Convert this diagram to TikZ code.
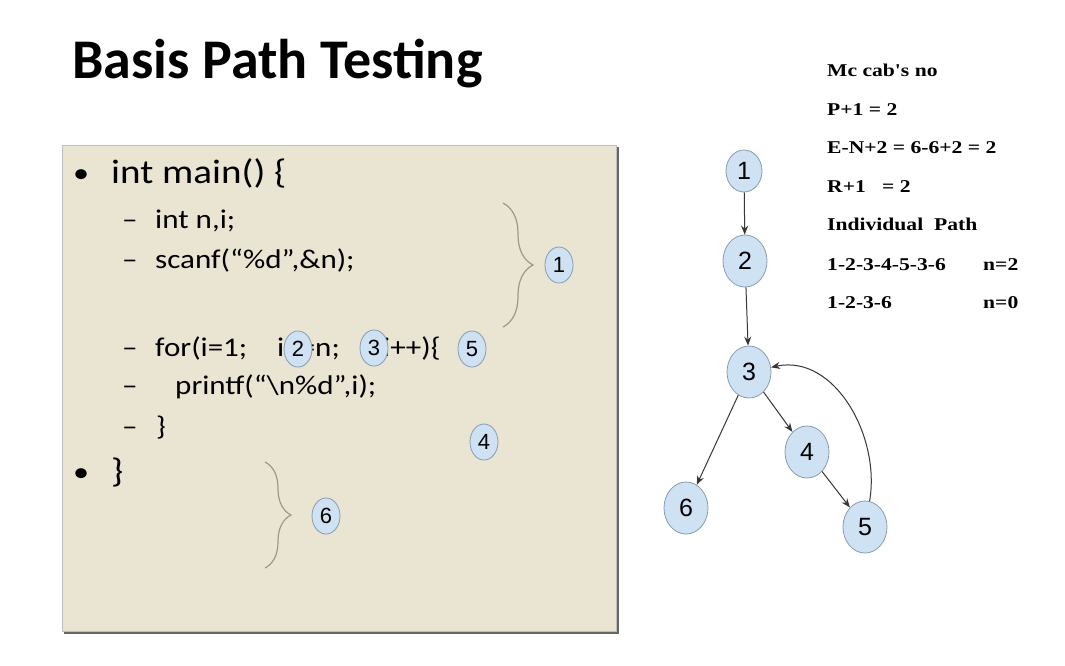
\documentclass[tikz,border=0pt]{standalone}
\usepackage{fontspec}
\setmainfont{Carlito}
\newfontfamily\codefont[FakeStretch=1.15]{Carlito}
\newfontfamily\serifb[FakeStretch=1.2]{Liberation Serif}
\newfontfamily\arialf{Liberation Sans}
\usepackage{tikz}
\usetikzlibrary{shapes.geometric,arrows.meta,decorations.pathreplacing}

\definecolor{slidebg}{RGB}{234,228,210}
\definecolor{bubble}{RGB}{207,226,243}
\definecolor{bubbleline}{RGB}{135,155,178}
\definecolor{bracegray}{RGB}{158,152,140}
\definecolor{edgegray}{RGB}{55,55,55}

\begin{document}
\begin{tikzpicture}[x=1pt,y=1pt,
	num/.style={ellipse,fill=bubble,draw=bubbleline,line width=0.8pt,inner sep=0pt,
		minimum width=28,minimum height=36,font=\arialf\fontsize{22}{22}\selectfont},
	gnum/.style={num,minimum width=44,minimum height=52,font=\arialf\fontsize{25}{25}\selectfont},
	edge/.style={-{Stealth[length=9pt,width=7pt]},draw=edgegray,line width=1pt},
	codetop/.style={anchor=base west,inner sep=0pt,font=\codefont\fontsize{34}{34}\selectfont},
	codeline/.style={anchor=base west,inner sep=0pt,font=\codefont\fontsize{27}{27}\selectfont},
	mcline/.style={anchor=base west,inner sep=0pt,font=\serifb\bfseries\fontsize{18}{18}\selectfont},
	curly/.style={draw=bracegray,line width=1.2pt,decorate,decoration={brace,amplitude=#1}}]
	\fill[white] (0,0) rectangle (1065,-665);
	\useasboundingbox (0,0) rectangle (1065,-665);
	% title
	\node[anchor=base west,inner sep=0pt,font=\bfseries\fontsize{56}{56}\selectfont] (title) at (72,-78) {Basis Path Testing};
	% code box
	\fill[black!60] (64,-147) rectangle (619,-634);
	\fill[slidebg,draw=black!25] (62,-145) rectangle (616,-631);
	\node[codetop,font=\codefont\fontsize{28}{28}\selectfont] (b1) at (73,-182) {•};
	\node[codetop] (l1) at (111,-183) {int main() \{};
	\foreach \y/\n in {228/d1,268/d2,356/d3,394/d4,435/d5}
	{
		\node[codeline] (\n) at (122,-\y) {–};
	}
	\node[codeline] (l2) at (155,-228) {int n,i;};
	\node[codeline] (l3) at (155,-268) {scanf(“\%d”,\&n);};
	\node[codeline] (l4a) at (155,-356) {for(i=1;};
	\node[codeline] (l4b) at (277,-356) {i<=n;};
	\node[codeline] (l4c) at (383,-356) {i++)\{};
	\node[codeline] (l5) at (175,-394) {printf(“\textbackslash n\%d”,i);};
	\node[codeline] (l6) at (156,-435) {\}};
	\node[codetop,font=\codefont\fontsize{28}{28}\selectfont] (b2) at (73,-481) {•};
	\node[codetop] (l7) at (111,-482) {\}};
	% braces
	\draw[curly=30] (503,-203) -- (503,-327);
	\draw[curly=26] (265,-462) -- (265,-568);
	% numbers on the code
	\node[num] (c1) at (559,-265) {1};
	\node[num] (c2) at (298,-349) {2};
	\node[num] (c3) at (374,-348) {3};
	\node[num] (c5) at (472,-349) {5};
	\node[num] (c4) at (484,-442) {4};
	\node[num] (c6) at (326,-516) {6};
	% flow graph
	\node[gnum,minimum width=36,minimum height=42] (g1) at (744,-171) {1};
	\node[gnum] (g2) at (745,-261) {2};
	\node[gnum] (g3) at (749,-372) {3};
	\node[gnum] (g4) at (807,-452) {4};
	\node[gnum] (g5) at (865,-527) {5};
	\node[gnum] (g6) at (686,-508) {6};
	\draw[edge] (g1) -- (g2);
	\draw[edge] (g2) -- (g3);
	\draw[edge] (g3) -- (g6);
	\draw[edge] (g3) -- (g4);
	\draw[edge] (g4) -- (g5);
	\draw[edge] (g5) to[out=80,in=12] (g3);
	% cyclomatic number
	\node[mcline] (m1) at (827,-76) {Mc cab's no};
	\node[mcline] (m2) at (827,-115) {P+1 = 2};
	\node[mcline] (m3) at (827,-153) {E-N+2 = 6-6+2 = 2};
	\node[mcline] (m4) at (827,-192) {R+1 \ \ = 2};
	\node[mcline] (m5) at (827,-230) {Individual \ Path};
	\node[mcline] (m6) at (827,-270) {1-2-3-4-5-3-6};
	\node[mcline] (m7) at (827,-308) {1-2-3-6};
	\node[mcline] (n1) at (983,-270) {n=2};
	\node[mcline] (n2) at (983,-308) {n=0};
\end{tikzpicture}
\end{document}
